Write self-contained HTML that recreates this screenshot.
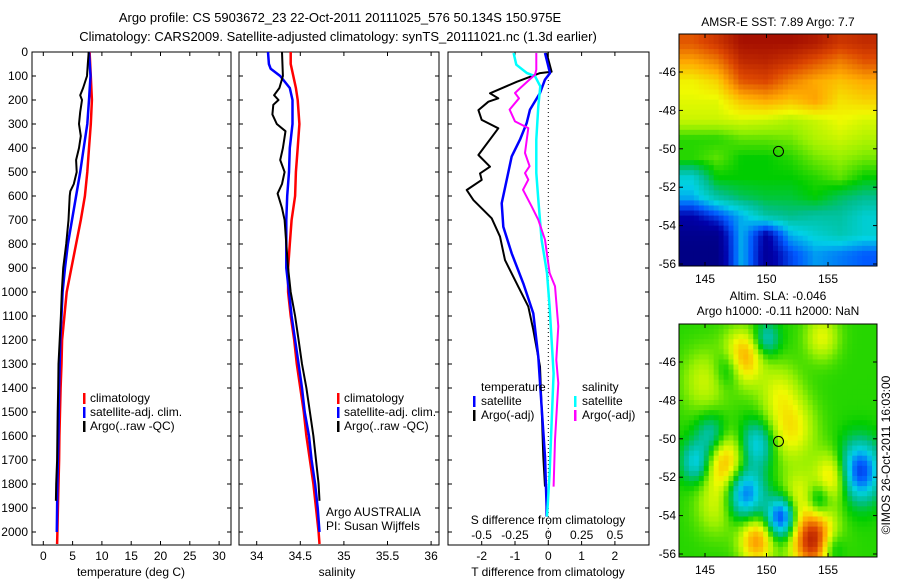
<!DOCTYPE html>
<html><head><meta charset="utf-8"><style>
html,body{margin:0;padding:0;background:#fff;}
svg{display:block;font-family:"Liberation Sans",sans-serif;}
</style></head><body>
<svg id="fig" width="900" height="580" viewBox="0 0 900 580">
<text x="340" y="22" font-size="13" text-anchor="middle">Argo profile: CS 5903672_23 22-Oct-2011 20111025_576 50.134S 150.975E</text>
<text x="338" y="41" font-size="13" text-anchor="middle">Climatology: CARS2009. Satellite-adjusted climatology: synTS_20111021.nc (1.3d earlier)</text>
</svg>
<script>
// ---------- data ----------
const tDepthClim=[0,100,200,300,400,500,600,700,800,900,1000,1100,1200,1300,1400,1500,1600,1700,1800,1900,2000,2050];
const tempClim=[7.9,8.1,8.3,8.1,7.8,7.5,7.1,6.4,5.6,4.8,4.0,3.6,3.2,3.1,2.95,2.85,2.75,2.7,2.6,2.5,2.4,2.35];
const tDepthSat=[0,100,200,300,400,500,600,700,800,900,1000,1100,1200,1300,1400,1500,1600,1700,1800,1900,2000];
const tempSat=[7.8,8.05,7.8,7.5,6.9,6.3,5.6,4.9,4.2,3.7,3.3,3.1,2.9,2.8,2.7,2.65,2.6,2.5,2.4,2.35,2.3];
const argoDepthT=[0,50,100,150,180,200,250,300,350,400,450,500,550,580,600,700,800,900,1000,1100,1200,1300,1400,1500,1600,1700,1800,1870];
const tempArgo=[7.75,7.6,7.45,6.8,6.3,6.6,6.3,6.1,6.4,6.1,5.6,5.7,5.2,4.6,4.5,4.3,3.9,3.4,3.15,3.0,2.8,2.6,2.55,2.45,2.4,2.35,2.2,2.15];

const sDepthClim=[0,50,100,150,200,300,400,500,600,700,800,900,1000,1100,1200,1300,1400,1500,1600,1700,1800,1900,2000,2050];
const salClim=[34.39,34.39,34.42,34.45,34.47,34.49,34.47,34.45,34.44,34.40,34.38,34.36,34.36,34.39,34.43,34.46,34.50,34.54,34.57,34.61,34.65,34.68,34.71,34.72];
const sDepthSat=[0,50,70,100,150,200,300,400,500,600,700,800,900,1000,1100,1200,1300,1400,1500,1600,1700,1800,1900,2000];
const salSat=[34.13,34.14,34.16,34.27,34.38,34.41,34.41,34.38,34.37,34.35,34.34,34.34,34.34,34.37,34.40,34.44,34.48,34.52,34.55,34.60,34.63,34.67,34.70,34.72];
const argoDepthS=[0,100,150,180,200,220,260,300,330,400,450,500,550,590,650,700,800,900,1000,1100,1200,1300,1400,1500,1600,1700,1800,1870];
const salArgo=[34.29,34.30,34.26,34.20,34.25,34.19,34.18,34.23,34.33,34.30,34.27,34.32,34.29,34.24,34.29,34.32,34.34,34.36,34.39,34.44,34.48,34.52,34.57,34.61,34.65,34.68,34.71,34.72];

const dTArgoDepth=[4,82,88,124,172,193,207,242,283,318,429,478,506,533,575,617,693,769,867,978,1061,1158,1311,1478,1686,1811];
const dTArgo=[-0.05,0.1,-0.25,-0.95,-1.75,-1.5,-1.8,-2.1,-2.0,-1.5,-2.1,-1.75,-2.05,-2.0,-2.45,-2.25,-1.7,-1.45,-1.3,-0.9,-0.6,-0.45,-0.25,-0.2,-0.15,-0.1];
const dTSatDepth=[4,88,115,171,240,296,365,435,533,630,728,839,964,1089,1270,1478,1686,1894,1936];
const dTSat=[-0.1,0.05,-0.1,-0.25,-0.55,-0.65,-0.85,-1.1,-1.25,-1.4,-1.35,-1.1,-0.75,-0.45,-0.3,-0.2,-0.1,-0.05,-0.05];
const dSSatDepth=[4,53,88,101,143,226,365,504,615,782,921,1061,1200,1339,1547,1756,1936];
const dSSat=[-0.26,-0.24,-0.16,-0.1,-0.06,-0.075,-0.09,-0.09,-0.075,-0.05,-0.01,0.01,0.025,0.04,0.025,0.01,-0.01];
const dSArgoDepth=[4,74,94,150,171,193,240,289,317,421,476,504,532,574,643,699,782,921,976,1143,1283,1380,1617,1811];
const dSArgo=[-0.09,-0.09,-0.1,-0.21,-0.25,-0.22,-0.29,-0.25,-0.15,-0.175,-0.14,-0.175,-0.15,-0.19,-0.125,-0.075,-0.025,0.01,0.05,0.075,0.06,0.075,0.05,0.04];

const depthTicks=[0,100,200,300,400,500,600,700,800,900,1000,1100,1200,1300,1400,1500,1600,1700,1800,1900,2000];
const tempTicks=[0,5,10,15,20,25,30];
const salTicks=[34,34.5,35,35.5,36];
const dTTicks=[-2,-1,0,1,2];
const dSTicks=[-0.5,-0.25,0,0.25,0.5];
const dSTickLabels=["-0.5","-0.25","0","0.25","0.5"];

// SST map grid (cols: lon 144..158 step 2, rows: lat -44.5..-55.5), values on colour scale 0..1
const sstLon=[144,146,148,150,152,154,156,158];
const sstLat=[-44.5,-45.5,-46.5,-47.5,-48.5,-49.5,-50.5,-51.5,-52.5,-53.5,-54.5,-55.5];
const sstGrid=[
[0.85,0.9,0.97,0.97,0.97,0.95,0.9,0.92],
[0.75,0.8,0.92,0.93,0.9,0.85,0.8,0.85],
[0.66,0.7,0.85,0.87,0.8,0.75,0.72,0.75],
[0.64,0.64,0.72,0.75,0.72,0.76,0.68,0.7],
[0.62,0.62,0.63,0.62,0.6,0.62,0.65,0.63],
[0.52,0.52,0.55,0.55,0.56,0.6,0.62,0.6],
[0.52,0.55,0.5,0.5,0.52,0.56,0.58,0.56],
[0.35,0.5,0.5,0.5,0.5,0.52,0.55,0.5],
[0.3,0.4,0.45,0.47,0.47,0.5,0.45,0.42],
[0.12,0.2,0.3,0.4,0.42,0.4,0.4,0.35],
[0.05,0.05,0.3,0.1,0.3,0.35,0.38,0.35],
[0.03,0.03,0.3,0.08,0.2,0.28,0.25,0.22]];
// SLA map anomaly blobs
const slaLon=[148,146.7,149.2,153.8,155.5,154.5,145,152,148.2,151.2,157.5,144.3,149.2,150,147,145.5,154.2,155.2,152.6,146,151];
const slaLat=[-45.8,-51.3,-55.3,-55.3,-52,-44.7,-47,-49.5,-52.8,-54.1,-51.7,-51.2,-50.3,-44.8,-46.3,-49.8,-53.2,-55.7,-53,-53.5,-47.5];
const slaAmp=[0.25,0.22,0.25,0.42,0.2,0.12,0.1,0.15,-0.3,-0.35,-0.35,-0.2,-0.2,-0.15,-0.15,-0.15,-0.15,-0.15,0.12,0.1,0.1];
const slaRad=[0.9,1.0,0.8,1.0,0.9,0.8,1.1,1.1,0.9,0.7,1.0,0.7,0.8,0.6,0.7,0.7,0.6,0.6,0.9,1.0,1.0];

// ---------- helpers ----------
const NS='http://www.w3.org/2000/svg';
const svg=document.getElementById('fig');
function mk(tag,attrs,parent){const e=document.createElementNS(NS,tag);for(const k in attrs)e.setAttribute(k,attrs[k]);(parent||svg).appendChild(e);return e;}
const TOP=52,BOT=545;
const yD=d=>TOP+d*0.24;

function panel(x0,x1,name){
  const g=mk('g',{});
  
  
  mk('rect',{x:x0,y:TOP,width:x1-x0,height:BOT-TOP,fill:'#fff',stroke:'#000','stroke-width':1},g);
  depthTicks.forEach(d=>{const y=yD(d);
    mk('line',{x1:x0,y1:y,x2:x0+4,y2:y,stroke:'#000'},g);
    mk('line',{x1:x1-4,y1:y,x2:x1,y2:y,stroke:'#000'},g);});
  return g;
}
function xticks(g,ticks,sx,labels,ly){
  ticks.forEach((t,i)=>{const x=sx(t);
    mk('line',{x1:x,y1:BOT,x2:x,y2:BOT-4,stroke:'#000'},g);
    mk('line',{x1:x,y1:TOP,x2:x,y2:TOP+4,stroke:'#000'},g);
    if(labels){const tx=mk('text',{x:x,y:ly,'font-size':12,'text-anchor':'middle'},g);tx.textContent=labels[i];
      
      }
  });
}
function line(g,xs,ds,sx,color,w,name){
  const pts=xs.map((v,i)=>sx(v).toFixed(1)+','+yD(ds[i]).toFixed(1)).join(' ');
  const p=mk('polyline',{points:pts,fill:'none',stroke:color,'stroke-width':w,'stroke-linejoin':'round'},g);
  
  
}
function text(g,x,y,s,size,anchor,name){
  const t=mk('text',{x:x,y:y,'font-size':size||12,'text-anchor':anchor||'start'},g);t.textContent=s;
  
  
  return t;
}
function legendBar(g,x,y,color){mk('rect',{x:x,y:y-9,width:2.5,height:11,fill:color},g);}

// ---------- panel 1 temperature ----------
const sxT=v=>43.3+5.86*v;
const g1=panel(32,231,'temperature-panel');
depthTicks.forEach(d=>{const t=text(g1,28,yD(d)+4,String(d),12,'end','y-tick-label');});
xticks(g1,tempTicks,sxT,tempTicks.map(String),560);
text(g1,131,576,'temperature (deg C)',12,'middle','x-axis-title-temperature');
line(g1,tempClim,tDepthClim,sxT,'#ff0000',2.5,'temperature-climatology-line');
line(g1,tempSat,tDepthSat,sxT,'#0000ff',2.5,'temperature-satellite-line');
line(g1,tempArgo,argoDepthT,sxT,'#000',2,'temperature-argo-line');
[['#ff0000','climatology'],['#0000ff','satellite-adj. clim.'],['#000','Argo(..raw -QC)']].forEach((e,i)=>{
  legendBar(g1,83,402+i*14,e[0]);text(g1,90,402+i*14,e[1],12,'start','legend-entry');});

// ---------- panel 2 salinity ----------
const sxS=v=>256.7+87.2*(v-34);
const g2=panel(239,439,'salinity-panel');
xticks(g2,salTicks,sxS,['34','34.5','35','35.5','36'],560);
text(g2,337,576,'salinity',12,'middle','x-axis-title-salinity');
line(g2,salClim,sDepthClim,sxS,'#ff0000',2.5,'salinity-climatology-line');
line(g2,salSat,sDepthSat,sxS,'#0000ff',2.5,'salinity-satellite-line');
line(g2,salArgo,argoDepthS,sxS,'#000',2,'salinity-argo-line');
[['#ff0000','climatology'],['#0000ff','satellite-adj. clim.'],['#000','Argo(..raw -QC)']].forEach((e,i)=>{
  legendBar(g2,337,402+i*14,e[0]);text(g2,344,402+i*14,e[1],12,'start','legend-entry');});
text(g2,326,516,'Argo AUSTRALIA',12,'start','argo-program-label');
text(g2,326,530,'PI: Susan Wijffels',12,'start','pi-label');

// ---------- panel 3 differences ----------
const sxdT=v=>548.3+33.3*v;
const sxdS=v=>548.3+133.3*v;
const g3=panel(448,649,'difference-panel');
xticks(g3,dTTicks,sxdT,dTTicks.map(String),560);
mk('line',{x1:sxdT(0),y1:TOP,x2:sxdT(0),y2:BOT,stroke:'#000','stroke-dasharray':'1,3','stroke-width':1},g3);
text(g3,548,576,'T difference from climatology',12,'middle','x-axis-title-t-diff');
text(g3,548,524,'S difference from climatology',12,'middle','s-diff-axis-title');
dSTicks.forEach((v,i)=>text(g3,sxdS(v),539,dSTickLabels[i],12,'middle','s-diff-tick-label'));
line(g3,dTArgo,dTArgoDepth,sxdT,'#000',2,'t-diff-argo-line');
line(g3,dTSat,dTSatDepth,sxdT,'#0000ff',2.5,'t-diff-satellite-line');
line(g3,dSSat,dSSatDepth,sxdS,'#00ffff',2.5,'s-diff-satellite-line');
line(g3,dSArgo,dSArgoDepth,sxdS,'#ff00ff',2,'s-diff-argo-line');
text(g3,481,391,'temperature',12,'start','legend-title-temperature');
text(g3,582,391,'salinity',12,'start','legend-title-salinity');
legendBar(g3,473,405,'#0000ff');text(g3,481,405,'satellite',12,'start','legend-entry');
legendBar(g3,473,419,'#000');text(g3,481,419,'Argo(-adj)',12,'start','legend-entry');
legendBar(g3,574,405,'#00ffff');text(g3,582,405,'satellite',12,'start','legend-entry');
legendBar(g3,574,419,'#ff00ff');text(g3,582,419,'Argo(-adj)',12,'start','legend-entry');

// ---------- maps ----------
const cstops=[[0,[0,0,120]],[0.12,[0,0,170]],[0.22,[0,90,255]],[0.33,[0,210,230]],[0.42,[0,190,140]],[0.5,[0,205,0]],[0.58,[150,240,0]],[0.65,[240,250,0]],[0.75,[255,170,0]],[0.87,[220,70,0]],[1,[150,0,0]]];
function cmap(v){v=Math.max(0,Math.min(1,v));for(let i=1;i<cstops.length;i++){if(v<=cstops[i][0]){const a=cstops[i-1],b=cstops[i],f=(v-a[0])/(b[0]-a[0]);
  return 'rgb('+a[1].map((c,k)=>Math.round(c+(b[1][k]-c)*f)).join(',')+')';}}return 'rgb(150,0,0)';}
const MX0=679,MX1=877;
const mxLon=l=>705+(l-145)*12.3;
function mapFrame(y0,y1,name,valFn){
  const g=mk('g',{});
  
  
  const nx=40,ny=46,cw=(MX1-MX0)/nx,ch=(y1-y0)/ny;
  const latAt=y=>-46-(y-(y0+38))/19.2;
  for(let j=0;j<ny;j++)for(let i=0;i<nx;i++){
    const cx=MX0+(i+0.5)*cw,cy=y0+(j+0.5)*ch;
    const lon=145+(cx-705)/12.3,lat=latAt(cy);
    mk('rect',{x:(MX0+i*cw).toFixed(2),y:(y0+j*ch).toFixed(2),width:(cw+0.4).toFixed(2),height:(ch+0.4).toFixed(2),fill:cmap(valFn(lon,lat))},g);
  }
  mk('rect',{x:MX0,y:y0,width:MX1-MX0,height:y1-y0,fill:'none',stroke:'#000'},g);
  [-46,-48,-50,-52,-54,-56].forEach(la=>{const y=y0+38+(-46-la)*19.2;
    mk('line',{x1:MX0,y1:y,x2:MX0+4,y2:y,stroke:'#000'},g);mk('line',{x1:MX1-4,y1:y,x2:MX1,y2:y,stroke:'#000'},g);
    text(g,676,y+4,String(la),12,'end','map-lat-label');});
  [145,150,155].forEach(lo=>{const x=mxLon(lo);
    mk('line',{x1:x,y1:y0,x2:x,y2:y0+4,stroke:'#000'},g);mk('line',{x1:x,y1:y1-4,x2:x,y2:y1,stroke:'#000'},g);
    text(g,x,y1+17,String(lo),12,'middle','map-lon-label');});
  const c=mk('circle',{cx:mxLon(150.975),cy:y0+38+(-46+50.134)*19.2,r:5,fill:'none',stroke:'#000','stroke-width':1},g);
  
  
  return g;
}
function sstVal(lon,lat){
  let fx=(lon-sstLon[0])/2,fy=(-44.5-lat);
  fx=Math.max(0,Math.min(sstLon.length-1.001,fx));fy=Math.max(0,Math.min(sstLat.length-1.001,fy));
  const i=Math.floor(fx),j=Math.floor(fy),a=fx-i,b=fy-j;
  return sstGrid[j][i]*(1-a)*(1-b)+sstGrid[j][i+1]*a*(1-b)+sstGrid[j+1][i]*(1-a)*b+sstGrid[j+1][i+1]*a*b;
}
function slaVal(lon,lat){
  let v=0.52;
  for(let k=0;k<slaLon.length;k++){const dx=(lon-slaLon[k])/(slaRad[k]*1.7),dy=(lat-slaLat[k])/(slaRad[k]*1.5);v+=slaAmp[k]*Math.exp(-(dx*dx+dy*dy));}
  return v;
}
text(svg,778,26,'AMSR-E SST: 7.89 Argo: 7.7',12,'middle','sst-map-title');
mapFrame(34,266,'sst-map',sstVal);
text(svg,778,300,'Altim. SLA: -0.046',12,'middle','sla-map-title');
text(svg,778,315,'Argo h1000: -0.11 h2000: NaN',12,'middle','sla-map-subtitle');
mapFrame(324,557,'sla-map',slaVal);
const cr=text(svg,0,0,'©IMOS 26-Oct-2011 16:03:00',12,'middle','imos-credit');
cr.setAttribute('transform','translate(890,455) rotate(-90)');
</script>
</body></html>
